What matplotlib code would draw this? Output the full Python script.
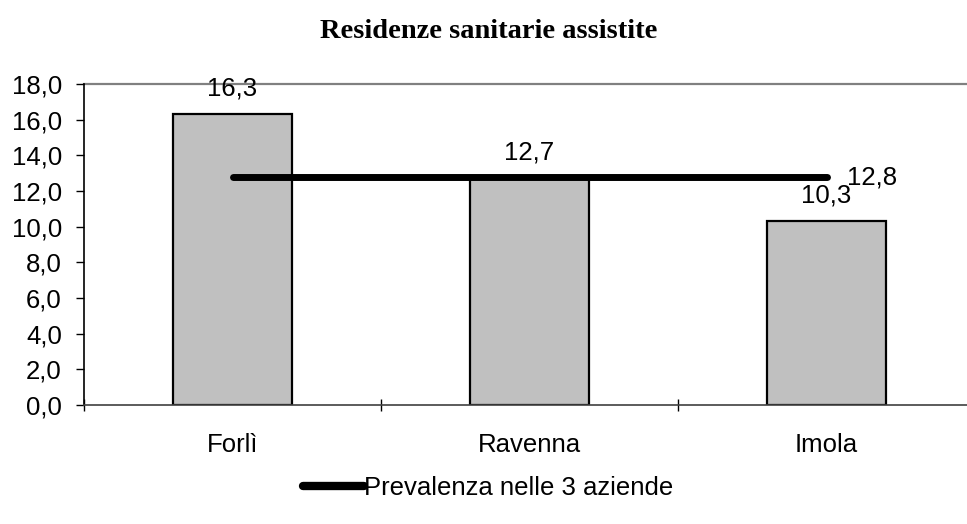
"""Residenze sanitarie assistite: bar chart with prevalence line."""

import matplotlib

matplotlib.use("Agg")

import matplotlib.pyplot as plt
from matplotlib.ticker import FuncFormatter, FixedLocator

categories = ["Forlì", "Ravenna", "Imola"]
values = [16.3, 12.7, 10.3]
prevalence = 12.8
title = "Residenze sanitarie assistite"
legend_label = "Prevalenza nelle 3 aziende"

FS = 18.5


def comma(v, _pos=None):
    return f"{v:.1f}".replace(".", ",")


def main() -> None:
    plt.rcParams["font.family"] = ["Liberation Sans", "DejaVu Sans"]
    fig = plt.figure(figsize=(9.67, 5.24), dpi=100)
    ax = fig.add_axes([84 / 967, 1 - 405 / 524, 891 / 967, 321 / 524])

    x = list(range(len(categories)))
    ax.bar(x, values, width=0.4, color="#c0c0c0", edgecolor="black", linewidth=1.6, zorder=2)
    line, = ax.plot([x[0], x[-1]], [prevalence, prevalence], color="black", linewidth=5,
                    solid_capstyle="round", zorder=3, label=legend_label)

    for xi, v in zip(x, values):
        ax.annotate(comma(v), (xi, v), xytext=(0, 13.5), textcoords="offset points",
                    ha="center", va="baseline", fontsize=FS, zorder=4)
    ax.annotate(comma(prevalence), (x[-1], prevalence), xytext=(15, -5.5),
                textcoords="offset points", ha="left", va="baseline", fontsize=FS, zorder=4)

    ax.set_xlim(-0.5, len(categories) - 0.5)
    ax.set_ylim(0, 18)
    ax.yaxis.set_major_locator(FixedLocator([i * 2 for i in range(10)]))
    ax.yaxis.set_major_formatter(FuncFormatter(comma))
    ax.set_xticks(x)
    ax.set_xticklabels(categories)
    ax.xaxis.set_minor_locator(FixedLocator([i - 0.5 for i in range(len(categories) + 1)]))
    ax.tick_params(axis="x", which="major", length=0, pad=20, labelsize=FS)
    ax.tick_params(axis="x", which="minor", length=8, direction="inout", width=1, color="black")
    ax.tick_params(axis="y", length=6, width=1, labelsize=FS, pad=10)

    ax.spines["right"].set_visible(False)
    ax.spines["top"].set_color("#808080")
    ax.spines["top"].set_linewidth(1.6)
    ax.spines["left"].set_linewidth(1.2)
    ax.spines["bottom"].set_color("#404040")
    ax.spines["bottom"].set_linewidth(1.2)
    ax.spines["top"].set_zorder(1)

    fig.text(489 / 967, 1 - 31 / 524, title, ha="center", va="center",
             fontsize=20.5, fontweight="bold", family=["Liberation Serif", "DejaVu Serif"])

    leg = fig.legend(handles=[line], loc="center", bbox_to_anchor=(488 / 967, 1 - 488 / 524),
                     frameon=False, handlelength=2.4, handletextpad=0.0, fontsize=FS)
    for handle in leg.get_lines():
        handle.set_linewidth(6)
        handle.set_solid_capstyle("round")

    fig.savefig("out.png", dpi=100)
    plt.close(fig)


if __name__ == "__main__":
    main()
